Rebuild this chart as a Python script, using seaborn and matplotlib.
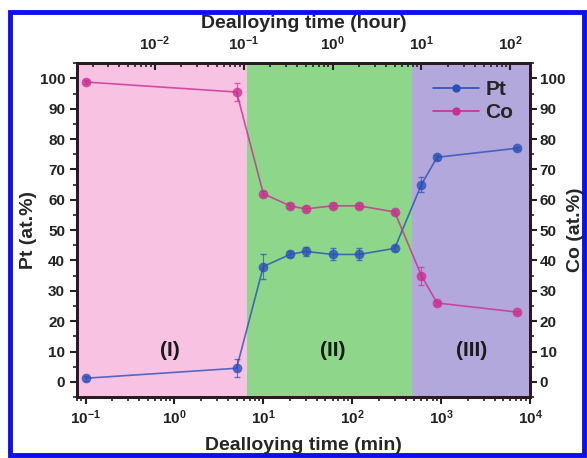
import numpy as np
import pandas as pd
import matplotlib
matplotlib.use('Agg')
import matplotlib.pyplot as plt
import seaborn as sns
from matplotlib.lines import Line2D
from matplotlib.patches import Rectangle
from matplotlib.ticker import LogLocator, MultipleLocator, NullFormatter

# datos
time_min = [0.1, 5, 10, 20, 30, 60, 120, 300, 600, 900, 7200]
pt = [1.2, 4.5, 38, 42, 43, 42, 42, 44, 65, 74, 77]
pt_err = [0.8, 3, 4, 1, 1.5, 2, 2, 0.8, 2.5, 0.8, 0.5]
co = [98.8, 95.5, 62, 58, 57, 58, 58, 56, 35, 26, 23]
co_err = [0.8, 3, 0.8, 0.8, 0.8, 0.8, 0.8, 0.8, 3, 0.8, 0.5]
regions = [(0.08, 6.5), (6.5, 470), (470, 10000)]
region_labels = ['(I)', '(II)', '(III)']
label_x = [0.9, 60, 2200]

sns.set_style('ticks')
plt.rcParams['font.family'] = ['Liberation Sans', 'DejaVu Sans']
plt.rcParams['font.weight'] = 'bold'
plt.rcParams['mathtext.fontset'] = 'custom'
plt.rcParams['mathtext.rm'] = 'Liberation Sans:bold'
plt.rcParams['mathtext.bf'] = 'Liberation Sans:bold'
plt.rcParams['mathtext.default'] = 'bf'

df = pd.DataFrame({'t': time_min, 'Pt': pt, 'Co': co})

fig = plt.figure(figsize=(5.87, 4.58), dpi=100)
ax = fig.add_axes([0.131, 0.133, 0.772, 0.729])

pt_col = '#2b4fb8'
co_col = '#c8308e'

# zonas de colores
span_cols = ['#f8c3e3', '#8ed68a', '#b2a8dc']
for (a, b), c in zip(regions, span_cols):
    ax.axvspan(a, b, color=c, lw=0, zorder=0)

ax.errorbar(time_min, pt, yerr=pt_err, fmt='none', ecolor=pt_col, elinewidth=0.8,
            capsize=2, alpha=0.7, zorder=2)
ax.errorbar(time_min, co, yerr=co_err, fmt='none', ecolor=co_col, elinewidth=0.8,
            capsize=2, alpha=0.7, zorder=2)
sns.lineplot(data=df, x='t', y='Pt', color=pt_col, marker='o', markersize=7,
             markeredgewidth=0, linewidth=1.2, alpha=0.8, ax=ax, zorder=3)
sns.lineplot(data=df, x='t', y='Co', color=co_col, marker='o', markersize=7,
             markeredgewidth=0, linewidth=1.2, alpha=0.8, ax=ax, zorder=3)

for lx, lab in zip(label_x, region_labels):
    ax.text(lx, 10.5, lab, ha='center', va='center', fontsize=15, fontweight='bold',
            color='#1a1a1a', zorder=5)

ax.set_xscale('log')
ax.set_xlim(0.08, 10000)
ax.set_ylim(-5, 105)
ax.set_yticks(range(0, 101, 10))
ax.yaxis.set_minor_locator(MultipleLocator(5))
ax.xaxis.set_major_locator(LogLocator(base=10, numticks=10))
ax.xaxis.set_minor_locator(LogLocator(base=10, subs=np.arange(2, 10), numticks=20))
ax.xaxis.set_minor_formatter(NullFormatter())
ax.set_xlabel('Dealloying time (min)', fontsize=14, fontweight='bold', labelpad=7)
ax.set_ylabel('Pt (at.%)', fontsize=14, fontweight='bold', labelpad=2)

spine_col = '#2a1a22'
for s in ax.spines.values():
    s.set_linewidth(2)
    s.set_color(spine_col)
    s.set_visible(True)
ax.tick_params(axis='both', which='major', direction='out', length=5, width=1.5,
               labelsize=11, colors='#222222')
ax.tick_params(axis='both', which='minor', direction='out', length=3, width=1.2,
               colors='#222222')

# eje derecho Co
ax2 = ax.twinx()
ax2.set_ylim(-5, 105)
ax2.set_yticks(range(0, 101, 10))
ax2.yaxis.set_minor_locator(MultipleLocator(5))
ax2.set_ylabel('Co (at.%)', fontsize=14, fontweight='bold', labelpad=1)
ax2.tick_params(axis='y', which='major', direction='out', length=5, width=1.5,
                labelsize=11, colors='#222222', pad=2)
ax2.tick_params(axis='y', which='minor', direction='out', length=3, width=1.2, colors='#222222')

# eje superior horas
ax3 = ax.twiny()
ax3.set_xscale('log')
ax3.set_xlim(0.08 / 60, 10000 / 60)
ax3.xaxis.set_major_locator(LogLocator(base=10, numticks=10))
ax3.xaxis.set_minor_locator(LogLocator(base=10, subs=np.arange(2, 10), numticks=20))
ax3.xaxis.set_minor_formatter(NullFormatter())
ax3.set_xlabel('Dealloying time (hour)', fontsize=14, fontweight='bold', labelpad=5)
ax3.tick_params(axis='x', which='major', direction='in', length=5, width=1.5,
                labelsize=11, colors='#222222', pad=7)
ax3.tick_params(axis='x', which='minor', direction='in', length=3, width=1.2, colors='#222222')
for a in (ax2, ax3):
    for s in a.spines.values():
        s.set_linewidth(2)
        s.set_color(spine_col)

handles = [Line2D([], [], color=pt_col, marker='o', markersize=6, lw=1.2, markeredgewidth=0),
           Line2D([], [], color=co_col, marker='o', markersize=6, lw=1.2, markeredgewidth=0)]
leg = ax2.legend(handles, ['Pt', 'Co'], loc='upper right', frameon=False, fontsize=15,
                 handlelength=2.2, handletextpad=0.3, borderaxespad=0.4, labelspacing=0.2)
leg.set_zorder(10)

# marco azul
fig.patches.append(Rectangle((10 / 587, 3 / 458), 574 / 587, 443 / 458,
                             transform=fig.transFigure, fill=False,
                             edgecolor='#0a10f0', linewidth=3.5, zorder=20))

fig.savefig('out.png', dpi=100)
